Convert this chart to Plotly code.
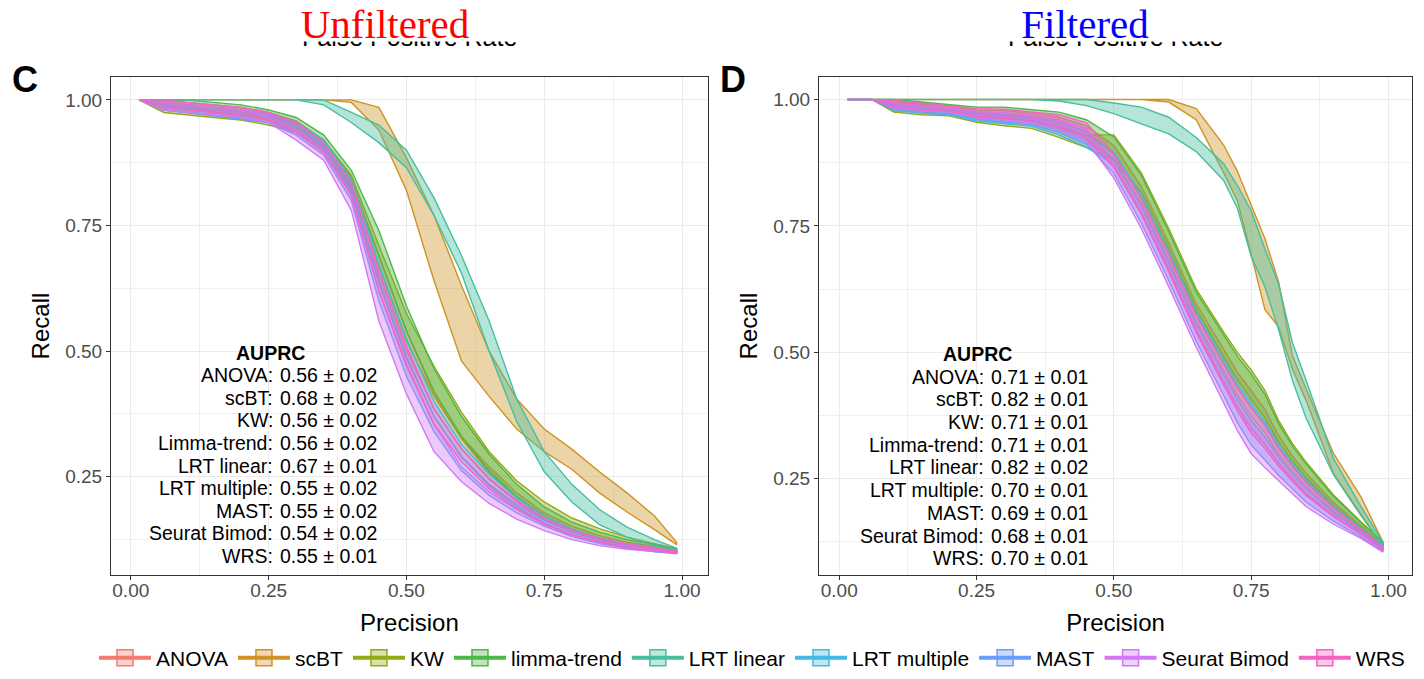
import plotly.graph_objects as go

# ---------------- data ----------------
methods = ["ANOVA", "scBT", "KW", "limma-trend", "LRT linear", "LRT multiple", "MAST", "Seurat Bimod", "WRS"]
auprc_labels = ["ANOVA", "scBT", "KW", "Limma-trend", "LRT linear", "LRT multiple", "MAST", "Seurat Bimod", "WRS"]
colors = ["#F27A70", "#CE9324", "#95A914", "#4DB748", "#45BF9E", "#46B9E2", "#6A9DF8", "#D277F6", "#F263C4"]

auprc_C_mean = [0.56, 0.68, 0.56, 0.56, 0.67, 0.55, 0.55, 0.54, 0.55]
auprc_C_sd = [0.02, 0.02, 0.02, 0.02, 0.01, 0.02, 0.02, 0.02, 0.01]
auprc_D_mean = [0.71, 0.82, 0.71, 0.71, 0.82, 0.70, 0.69, 0.68, 0.70]
auprc_D_sd = [0.01, 0.01, 0.01, 0.01, 0.02, 0.01, 0.01, 0.01, 0.01]

x_ticks = [0, 0.25, 0.5, 0.75, 1.0]
x_tick_labels = ["0.00", "0.25", "0.50", "0.75", "1.00"]
y_ticks = [0.25, 0.5, 0.75, 1.0]
y_tick_labels = ["0.25", "0.50", "0.75", "1.00"]

# Panel C (Unfiltered): precision grid and recall ribbons (lo / hi)
precision_C = [0.015, 0.06, 0.1, 0.15, 0.2, 0.25, 0.3, 0.35, 0.4, 0.45, 0.5, 0.55, 0.6, 0.65, 0.7, 0.75, 0.8, 0.85, 0.9, 0.95, 0.99]

anova_C_lo = [1.0, 0.985, 0.98, 0.975, 0.968, 0.96, 0.94, 0.9, 0.82, 0.65, 0.5, 0.385, 0.305, 0.245, 0.2, 0.165, 0.14, 0.124, 0.113, 0.106, 0.1]
anova_C_hi = [1.0, 1.0, 0.995, 0.99, 0.985, 0.975, 0.958, 0.92, 0.845, 0.69, 0.54, 0.415, 0.33, 0.27, 0.218, 0.178, 0.152, 0.133, 0.12, 0.112, 0.104]
scbt_C_lo = [1.0, 1.0, 1.0, 1.0, 1.0, 1.0, 1.0, 1.0, 0.995, 0.94, 0.82, 0.64, 0.48, 0.41, 0.345, 0.3, 0.265, 0.218, 0.18, 0.145, 0.115]
scbt_C_hi = [1.0, 1.0, 1.0, 1.0, 1.0, 1.0, 1.0, 1.0, 1.0, 0.985, 0.885, 0.77, 0.63, 0.5, 0.405, 0.345, 0.305, 0.26, 0.218, 0.172, 0.12]
kw_C_lo = [1.0, 0.975, 0.97, 0.965, 0.96, 0.95, 0.935, 0.9, 0.825, 0.67, 0.52, 0.41, 0.325, 0.258, 0.208, 0.172, 0.146, 0.128, 0.116, 0.108, 0.102]
kw_C_hi = [1.0, 0.99, 0.985, 0.98, 0.975, 0.965, 0.955, 0.92, 0.85, 0.71, 0.575, 0.47, 0.378, 0.3, 0.242, 0.2, 0.168, 0.147, 0.13, 0.117, 0.107]
limma_C_lo = [1.0, 0.99, 0.985, 0.98, 0.975, 0.965, 0.945, 0.905, 0.83, 0.69, 0.54, 0.42, 0.33, 0.262, 0.21, 0.172, 0.146, 0.127, 0.115, 0.107, 0.101]
limma_C_hi = [1.0, 1.0, 1.0, 0.995, 0.99, 0.98, 0.965, 0.93, 0.86, 0.74, 0.59, 0.465, 0.37, 0.295, 0.235, 0.19, 0.16, 0.14, 0.125, 0.115, 0.106]
lrtlin_C_lo = [1.0, 1.0, 1.0, 1.0, 1.0, 1.0, 1.0, 0.99, 0.955, 0.915, 0.865, 0.77, 0.655, 0.5, 0.36, 0.26, 0.2, 0.155, 0.13, 0.113, 0.103]
lrtlin_C_hi = [1.0, 1.0, 1.0, 1.0, 1.0, 1.0, 1.0, 1.0, 0.975, 0.95, 0.9, 0.805, 0.69, 0.56, 0.405, 0.3, 0.235, 0.185, 0.15, 0.125, 0.108]
lrtmul_C_lo = [1.0, 0.98, 0.975, 0.97, 0.962, 0.955, 0.935, 0.9, 0.815, 0.635, 0.485, 0.37, 0.29, 0.232, 0.19, 0.158, 0.135, 0.119, 0.108, 0.101, 0.097]
lrtmul_C_hi = [1.0, 0.995, 0.99, 0.985, 0.98, 0.972, 0.955, 0.92, 0.84, 0.675, 0.525, 0.4, 0.315, 0.255, 0.208, 0.171, 0.146, 0.127, 0.115, 0.106, 0.1]
mast_C_lo = [1.0, 0.98, 0.975, 0.968, 0.962, 0.955, 0.93, 0.89, 0.8, 0.6, 0.45, 0.34, 0.262, 0.213, 0.178, 0.152, 0.131, 0.117, 0.108, 0.102, 0.098]
mast_C_hi = [1.0, 0.995, 0.99, 0.985, 0.98, 0.972, 0.95, 0.91, 0.825, 0.64, 0.49, 0.37, 0.29, 0.235, 0.195, 0.164, 0.141, 0.125, 0.115, 0.107, 0.101]
seurat_C_lo = [1.0, 0.98, 0.975, 0.97, 0.965, 0.955, 0.92, 0.88, 0.78, 0.56, 0.415, 0.3, 0.24, 0.197, 0.166, 0.143, 0.125, 0.113, 0.106, 0.101, 0.098]
seurat_C_hi = [1.0, 0.995, 0.99, 0.985, 0.98, 0.97, 0.94, 0.9, 0.81, 0.62, 0.475, 0.355, 0.27, 0.22, 0.185, 0.155, 0.135, 0.121, 0.112, 0.106, 0.101]
wrs_C_lo = [1.0, 0.985, 0.98, 0.975, 0.97, 0.96, 0.935, 0.895, 0.81, 0.62, 0.47, 0.355, 0.28, 0.226, 0.186, 0.156, 0.134, 0.12, 0.11, 0.103, 0.099]
wrs_C_hi = [1.0, 1.0, 0.995, 0.99, 0.985, 0.975, 0.955, 0.915, 0.835, 0.66, 0.51, 0.385, 0.305, 0.247, 0.203, 0.168, 0.144, 0.128, 0.117, 0.109, 0.102]

# Panel D (Filtered)
precision_D = [0.015, 0.06, 0.1, 0.15, 0.2, 0.25, 0.3, 0.35, 0.4, 0.45, 0.5, 0.55, 0.6, 0.65, 0.7, 0.725, 0.75, 0.775, 0.8, 0.825, 0.85, 0.9, 0.95, 0.99]

anova_D_lo = [1.0, 1.0, 0.975, 0.978, 0.975, 0.964, 0.959, 0.954, 0.94, 0.918, 0.883, 0.795, 0.682, 0.562, 0.463, 0.415, 0.374, 0.341, 0.299, 0.265, 0.235, 0.186, 0.147, 0.114]
anova_D_hi = [1.0, 1.0, 0.995, 0.99, 0.986, 0.979, 0.978, 0.973, 0.965, 0.948, 0.909, 0.828, 0.716, 0.596, 0.505, 0.461, 0.424, 0.387, 0.335, 0.295, 0.261, 0.204, 0.157, 0.12]
scbt_D_lo = [1.0, 1.0, 1.0, 1.0, 1.0, 1.0, 1.0, 1.0, 1.0, 1.0, 1.0, 1.0, 0.995, 0.96, 0.855, 0.8, 0.694, 0.585, 0.55, 0.467, 0.405, 0.26, 0.18, 0.115]
scbt_D_hi = [1.0, 1.0, 1.0, 1.0, 1.0, 1.0, 1.0, 1.0, 1.0, 1.0, 1.0, 1.0, 1.0, 0.982, 0.91, 0.858, 0.79, 0.725, 0.64, 0.494, 0.428, 0.3, 0.214, 0.125]
kw_D_lo = [1.0, 1.0, 0.975, 0.97, 0.968, 0.955, 0.948, 0.943, 0.925, 0.905, 0.88, 0.817, 0.705, 0.585, 0.491, 0.446, 0.407, 0.371, 0.323, 0.285, 0.252, 0.198, 0.153, 0.118]
kw_D_hi = [1.0, 1.0, 0.985, 0.98, 0.977, 0.967, 0.963, 0.958, 0.945, 0.93, 0.93, 0.855, 0.745, 0.625, 0.54, 0.5, 0.465, 0.425, 0.365, 0.32, 0.283, 0.218, 0.165, 0.125]
limma_D_lo = [1.0, 1.0, 0.99, 0.985, 0.981, 0.973, 0.97, 0.965, 0.955, 0.936, 0.892, 0.805, 0.693, 0.573, 0.477, 0.43, 0.391, 0.356, 0.311, 0.275, 0.243, 0.192, 0.15, 0.116]
limma_D_hi = [1.0, 1.0, 1.0, 0.995, 0.99, 0.985, 0.985, 0.98, 0.975, 0.96, 0.926, 0.85, 0.739, 0.619, 0.533, 0.492, 0.457, 0.417, 0.359, 0.315, 0.279, 0.215, 0.163, 0.124]
lrtlin_D_lo = [1.0, 1.0, 1.0, 1.0, 1.0, 1.0, 1.0, 1.0, 0.997, 0.988, 0.972, 0.952, 0.932, 0.897, 0.84, 0.785, 0.69, 0.63, 0.545, 0.445, 0.37, 0.258, 0.177, 0.118]
lrtlin_D_hi = [1.0, 1.0, 1.0, 1.0, 1.0, 1.0, 1.0, 1.0, 1.0, 1.0, 0.993, 0.985, 0.965, 0.925, 0.873, 0.83, 0.78, 0.705, 0.635, 0.52, 0.445, 0.29, 0.195, 0.124]
lrtmul_D_lo = [1.0, 1.0, 0.978, 0.973, 0.97, 0.958, 0.952, 0.947, 0.93, 0.906, 0.871, 0.778, 0.665, 0.545, 0.442, 0.392, 0.35, 0.318, 0.281, 0.25, 0.221, 0.177, 0.142, 0.111]
lrtmul_D_hi = [1.0, 1.0, 0.988, 0.983, 0.979, 0.97, 0.967, 0.962, 0.95, 0.93, 0.896, 0.811, 0.699, 0.579, 0.484, 0.438, 0.399, 0.364, 0.317, 0.28, 0.248, 0.195, 0.152, 0.117]
mast_D_lo = [1.0, 1.0, 0.98, 0.975, 0.972, 0.961, 0.955, 0.95, 0.935, 0.912, 0.854, 0.756, 0.642, 0.522, 0.414, 0.361, 0.317, 0.287, 0.257, 0.23, 0.204, 0.166, 0.135, 0.107]
mast_D_hi = [1.0, 1.0, 0.99, 0.985, 0.981, 0.973, 0.97, 0.965, 0.955, 0.936, 0.879, 0.789, 0.676, 0.556, 0.456, 0.407, 0.366, 0.333, 0.293, 0.26, 0.23, 0.183, 0.145, 0.113]
seurat_D_lo = [1.0, 1.0, 0.983, 0.978, 0.975, 0.964, 0.959, 0.954, 0.94, 0.918, 0.845, 0.745, 0.63, 0.51, 0.4, 0.345, 0.3, 0.272, 0.245, 0.22, 0.195, 0.16, 0.132, 0.105]
seurat_D_hi = [1.0, 1.0, 0.993, 0.988, 0.983, 0.976, 0.974, 0.969, 0.96, 0.942, 0.871, 0.778, 0.665, 0.545, 0.442, 0.392, 0.35, 0.318, 0.281, 0.25, 0.221, 0.177, 0.142, 0.111]
wrs_D_lo = [1.0, 1.0, 0.985, 0.98, 0.977, 0.967, 0.963, 0.958, 0.945, 0.924, 0.866, 0.773, 0.659, 0.539, 0.435, 0.384, 0.341, 0.31, 0.275, 0.245, 0.217, 0.175, 0.14, 0.11]
wrs_D_hi = [1.0, 1.0, 0.998, 0.993, 0.988, 0.982, 0.981, 0.976, 0.97, 0.954, 0.892, 0.805, 0.693, 0.573, 0.477, 0.43, 0.391, 0.356, 0.311, 0.275, 0.243, 0.192, 0.15, 0.116]

ribbons_C = [(anova_C_lo, anova_C_hi), (scbt_C_lo, scbt_C_hi), (kw_C_lo, kw_C_hi), (limma_C_lo, limma_C_hi),
             (lrtlin_C_lo, lrtlin_C_hi), (lrtmul_C_lo, lrtmul_C_hi), (mast_C_lo, mast_C_hi),
             (seurat_C_lo, seurat_C_hi), (wrs_C_lo, wrs_C_hi)]
ribbons_D = [(anova_D_lo, anova_D_hi), (scbt_D_lo, scbt_D_hi), (kw_D_lo, kw_D_hi), (limma_D_lo, limma_D_hi),
             (lrtlin_D_lo, lrtlin_D_hi), (lrtmul_D_lo, lrtmul_D_hi), (mast_D_lo, mast_D_hi),
             (seurat_D_lo, seurat_D_hi), (wrs_D_lo, wrs_D_hi)]


def rgba(hex_color, a):
    h = hex_color.lstrip("#")
    r, g, b = int(h[0:2], 16), int(h[2:4], 16), int(h[4:6], 16)
    return f"rgba({r},{g},{b},{a})"


FONT = "Liberation Sans, Arial, sans-serif"
fig = go.Figure()

for panel, (prec, ribbons, xa, ya) in enumerate([(precision_C, ribbons_C, "x", "y"), (precision_D, ribbons_D, "x2", "y2")]):
    for i, (lo, hi) in enumerate(ribbons):
        fig.add_trace(go.Scatter(
            x=list(prec) + list(prec)[::-1],
            y=list(hi) + list(lo)[::-1],
            mode="lines", fill="toself",
            fillcolor=rgba(colors[i], 0.4),
            line=dict(color=colors[i], width=1.4),
            name=methods[i], legendgroup=methods[i],
            showlegend=False,
            xaxis=xa, yaxis=ya, hoverinfo="skip",
        ))

# legend keys (ggplot-style: light box with a line across)
for i, m in enumerate(methods):
    fig.add_trace(go.Scatter(
        x=[None], y=[None], mode="lines+markers", name=m, legendgroup=m,
        line=dict(color=colors[i], width=4),
        marker=dict(symbol="square", size=16, color=rgba(colors[i], 0.35),
                    line=dict(color=colors[i], width=1.5)),
        xaxis="x", yaxis="y", hoverinfo="skip", showlegend=True,
    ))

axis_common = dict(
    showline=True, mirror=True, linecolor="#333333", linewidth=1,
    ticks="outside", ticklen=4, tickcolor="#333333", tickwidth=1,
    tickfont=dict(family=FONT, size=19, color="#4D4D4D"),
    showgrid=True, gridcolor="#EBEBEB", gridwidth=1.2, zeroline=False, automargin=False,
    minor=dict(tickvals=[0.125, 0.375, 0.625, 0.875], showgrid=True, gridcolor="#F0F0F0", gridwidth=0.7, ticks=""),
)

fig.update_layout(
    width=1424, height=679,
    margin=dict(l=0, r=0, t=0, b=0),
    paper_bgcolor="white", plot_bgcolor="white",
    font=dict(family=FONT, color="black"),
    xaxis=dict(domain=[0.0779, 0.4972], range=[-0.036, 1.047], tickvals=x_ticks, ticktext=x_tick_labels,
               ticklabelstandoff=-6,
               title=dict(text="Precision", font=dict(size=24, color="black"), standoff=14), anchor="y", **axis_common),
    yaxis=dict(domain=[0.1502, 0.8866], range=[0.054, 1.046], tickvals=y_ticks, ticktext=y_tick_labels,
               title=dict(text="Recall", font=dict(size=24, color="black"), standoff=8), anchor="x", **axis_common),
    xaxis2=dict(domain=[0.5751, 0.9916], range=[-0.037, 1.043], tickvals=x_ticks, ticktext=x_tick_labels,
                ticklabelstandoff=-6,
                title=dict(text="Precision", font=dict(size=24, color="black"), standoff=14), anchor="y2", **axis_common),
    yaxis2=dict(domain=[0.1502, 0.8866], range=[0.059, 1.045], tickvals=y_ticks, ticktext=y_tick_labels,
                title=dict(text="Recall", font=dict(size=24, color="black"), standoff=8), anchor="x2", **axis_common),
    legend=dict(orientation="h", x=752 / 1424, xanchor="center", y=0.028, yanchor="middle",
                font=dict(family=FONT, size=21, color="black"), itemwidth=52,
                bgcolor="rgba(0,0,0,0)", traceorder="normal"),
)

annotations = []
# partially visible axis title from the panel above (its top is hidden under the white title box)
for xc in [0.2876, 0.7833]:
    annotations.append(dict(text="False Positive Rate", x=xc, y=(679 - 40) / 679, xref="paper", yref="paper",
                            xanchor="center", yanchor="top", showarrow=False, height=10, valign="bottom",
                            borderpad=0, font=dict(family=FONT, size=25, color="black")))
# titles on white boxes
for title, xc, col in [("Unfiltered", 385 / 1424, "#FF0000"), ("Filtered", 1085 / 1424, "#0000FF")]:
    annotations.append(dict(text=title, x=xc, y=1.0, xref="paper", yref="paper",
                            xanchor="center", yanchor="top", showarrow=False, bgcolor="white",
                            width=300, height=40, valign="top", borderpad=0,
                            font=dict(family="Liberation Serif, Times New Roman, serif", size=41, color=col)))
# panel letters
for letter, xp in [("C", 25 / 1424), ("D", 733 / 1424)]:
    annotations.append(dict(text=f"<b>{letter}</b>", x=xp, y=(679 - 80) / 679, xref="paper", yref="paper",
                            xanchor="center", yanchor="middle", showarrow=False,
                            font=dict(family=FONT, size=36, color="black")))

# AUPRC text blocks
for xa, ya, means, sds, xcol, xhead in [("x", "y", auprc_C_mean, auprc_C_sd, 0.262, 0.253),
                                         ("x2", "y2", auprc_D_mean, auprc_D_sd, 0.267, 0.251)]:
    annotations.append(dict(text="<b>AUPRC</b>", x=xhead, y=0.497, xref=xa, yref=ya, xanchor="center",
                            yanchor="middle", showarrow=False, font=dict(family=FONT, size=19.5, color="black")))
    for k in range(len(auprc_labels)):
        yk = 0.452 - 0.0449 * k
        annotations.append(dict(text=f"{auprc_labels[k]}:", x=xcol, y=yk, xref=xa, yref=ya, xanchor="right",
                                yanchor="middle", showarrow=False, font=dict(family=FONT, size=19.5, color="black")))
        annotations.append(dict(text=f"{means[k]:.2f} ± {sds[k]:.2f}", x=xcol, y=yk, xref=xa, yref=ya,
                                xanchor="left", xshift=3, yanchor="middle", showarrow=False,
                                font=dict(family=FONT, size=19.5, color="black")))

fig.update_layout(annotations=annotations)
fig.write_html("out.html", config={"displayModeBar": False},
               post_script="document.body.style.margin='0px';document.body.style.padding='0px';"
                           "document.body.style.overflow='hidden';")
